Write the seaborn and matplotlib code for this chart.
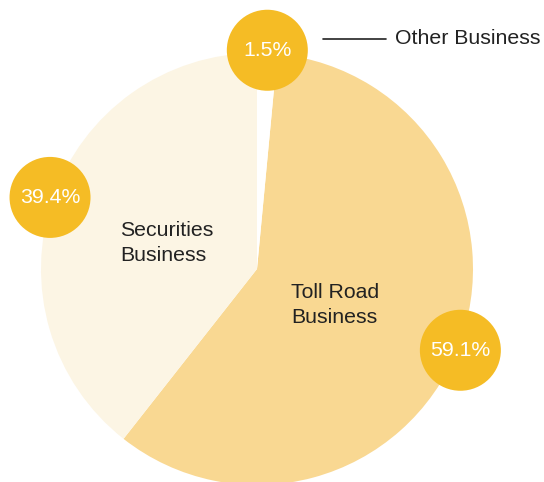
import numpy as np
import matplotlib
matplotlib.use('Agg')
import matplotlib.pyplot as plt
from matplotlib.patches import Circle
import seaborn as sns

# Chart data
segments = ['Toll Road\nBusiness', 'Securities\nBusiness', 'Other Business']
shares = [59.1, 39.4, 1.5]
share_labels = ['59.1%', '39.4%', '1.5%']

slice_colors = ['#F9D892', '#FCF5E4', '#FFFFFF']
badge_color = '#F5BC25'
text_color = '#222222'

sns.set_theme(style='white')
plt.rcParams['font.family'] = ['Liberation Sans', 'DejaVu Sans']

fig = plt.figure(figsize=(5.44, 4.82), dpi=100)
ax = fig.add_axes([0, 0, 1, 1])

cx, cy, r = 257, 482 - 269, 216
start = 90 - shares[2] * 3.6

wedges, _ = ax.pie(shares, colors=slice_colors, startangle=start, counterclock=False,
                   center=(cx, cy), radius=r, frame=True,
                   wedgeprops=dict(linewidth=0))
ax.set_xlim(0, 544)
ax.set_ylim(0, 482)
ax.set_aspect('equal')
ax.axis('off')

# badges sit on the rim at each slice's mid angle
for w, lab in zip(wedges, share_labels):
    mid = np.deg2rad((w.theta1 + w.theta2) / 2)
    bx = cx + (r + 3) * np.cos(mid)
    by = cy + (r + 3) * np.sin(mid)
    ax.add_patch(Circle((bx, by), 40.5, color=badge_color, zorder=3, linewidth=0))
    ax.text(bx, by, lab, color='white', fontsize=15.3, ha='center', va='center', zorder=4)

# slice names
ax.text(291, 482 - 305, segments[0], color=text_color, fontsize=15.3,
        ha='left', va='center', linespacing=1.45)
ax.text(120, 482 - 243, segments[1], color=text_color, fontsize=15.3,
        ha='left', va='center', linespacing=1.45)
ax.plot([323, 386], [482 - 39, 482 - 39], color=text_color, linewidth=1.2)
ax.text(395, 482 - 39, segments[2], color=text_color, fontsize=15.3,
        ha='left', va='center')

fig.savefig('out.png', dpi=100)
